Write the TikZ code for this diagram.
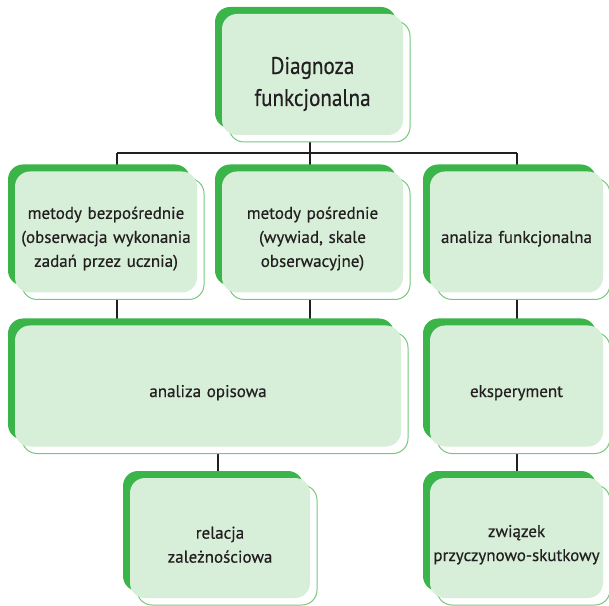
\documentclass[tikz,border=0pt]{standalone}
\usepackage{fontspec}
\setmainfont{PT Sans}[FakeBold=0.5]
\newfontfamily\narrowfont{PT Sans}[FakeBold=0.5, FakeStretch=0.88]
\usetikzlibrary{backgrounds}
\definecolor{dkgreen}{HTML}{3BB54A}
\definecolor{lightfill}{HTML}{D7EFD9}
\definecolor{outl}{HTML}{74C97D}
\definecolor{txt}{HTML}{231F20}
\tikzset{
	gbox/.style={rounded corners=15pt, fill=lightfill, text=txt, align=center, inner sep=0pt,
		minimum width=#1, text width=#1, minimum height=121pt,
		execute at begin node={\rule{0pt}{1.5em}},
		preaction={draw=outl, line width=1pt, fill=white, transform canvas={shift={(7pt,-7pt)}}},
		preaction={fill=dkgreen, transform canvas={shift={(-7pt,7pt)}}},
		font=\fontsize{17}{24}\selectfont},
	gbox/.default=181pt,
	link/.style={line width=1.8pt, color=txt}
}

\begin{document}
\begin{tikzpicture}[x=1pt, y=1pt]
			%%%%% START %%%%%
			\useasboundingbox (0, 0) rectangle (609, 605);
			
			\node[gbox, font=\narrowfont\fontsize{24}{32}\selectfont] (diag) at (312.5, 530.5) {Diagnoza\\funkcjonalna};
			
			\node[gbox=182pt] (bezp) at (106, 373) {metody bezpośrednie\\(obserwacja wykonania\\zadań przez ucznia)};
			\node[gbox] (posr) at (312.5, 373) {metody pośrednie\\(wywiad, skale\\obserwacyjne)};
			\node[gbox=173pt] (funk) at (516.5, 373) {analiza funkcjonalna};
			
			\node[gbox=386pt] (opis) at (208, 219) {analiza opisowa};
			\node[gbox=173pt] (eksp) at (516.5, 219) {eksperyment};
			
			\node[gbox=180pt, minimum height=120pt] (rela) at (220, 67) {relacja\\zależnościowa};
			\node[gbox=173pt, minimum height=120pt] (zwia) at (516.5, 67) {związek\\przyczynowo-skutkowy};
			
			\coordinate (busL) at (117, 452);
			\coordinate (busR) at (517, 452);
			\coordinate (midA) at (310, 452);
			\coordinate (midB) at (218, 0);
			
			\begin{scope}[on background layer]
				\draw[link] (diag.south -| midA) -- (midA);
				\draw[link] (busL) -- (busR);
				\draw[link] (busL) -- (busL |- bezp.north);
				\draw[link] (midA) -- (midA |- posr.north);
				\draw[link] (busR) -- (busR |- funk.north);
				
				\draw[link] (bezp.south -| busL) -- (busL |- opis.north);
				\draw[link] (posr.south -| midA) -- (midA |- opis.north);
				\draw[link] (funk.south -| busR) -- (busR |- eksp.north);
				
				\draw[link] (opis.south -| midB) -- (midB |- rela.north);
				\draw[link] (eksp.south -| busR) -- (busR |- zwia.north);
			\end{scope}
			
			%%%%% END %%%%%
\end{tikzpicture}
\end{document}
